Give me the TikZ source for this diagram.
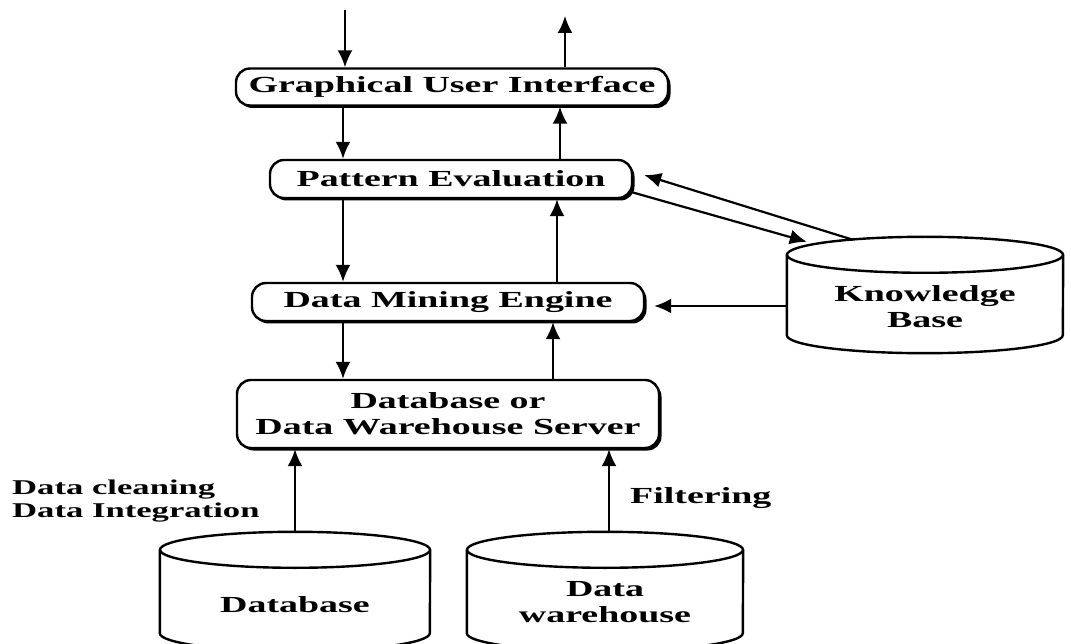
\documentclass[tikz,border=0pt]{standalone}
\usepackage{fontspec}
\setmainfont{Liberation Serif}[FakeStretch=1.65]
\usetikzlibrary{arrows.meta,calc,shadows}
\newcommand\drawcyl[3]{%
  \coordinate (#1-tc) at ($(#1.north)+(0,#2)$);
  \coordinate (#1-tl) at ($(#1.north west)+(0,#2)$);
  \coordinate (#1-tr) at ($(#1.north east)+(0,#2)$);
  \coordinate (#1-bl) at ($(#1.south west)+(0,-#2)$);
  \draw[cylline] (#1-tc) ellipse [x radius=#3, y radius=#2];
  \draw[cylline] (#1-tl) -- (#1-bl) arc [start angle=180, end angle=0, x radius=#3, y radius=#2] -- (#1-tr);
}
\begin{document}
\begin{tikzpicture}[x=1pt,y=-1pt,
  box/.style={draw=black, line width=2.4pt, fill=white, rounded corners=14pt,
    font=\bfseries\fontsize{23}{26}\selectfont, align=center, inner sep=0pt,
    drop shadow={shadow xshift=2.5pt, shadow yshift=-2.5pt, opacity=1, fill=black}},
  arr/.style={line width=2.2pt, -{Latex[length=17pt,width=15pt]}},
  cylarea/.style={draw=none, inner sep=0pt},
  cylline/.style={line width=2.4pt},
  txt/.style={font=\bfseries\fontsize{23}{26}\selectfont, align=center, inner sep=0pt},
  lbl/.style={font=\bfseries\fontsize{21}{23}\selectfont, align=left, inner sep=0pt}
]
\useasboundingbox (0,0) rectangle (1071,644);
\clip (0,0) rectangle (1071,644);
\fill[white] (0,0) rectangle (1071,644);

% boxes
\node[box, minimum width=432pt, minimum height=37pt] (gui) at (452,87) {Graphical User Interface};
\node[box, minimum width=362pt, minimum height=38pt] (pe) at (451,179) {Pattern Evaluation};
\node[box, minimum width=392pt, minimum height=38pt] (dme) at (448,302) {Data Mining Engine};
\node[box, minimum width=422pt, minimum height=68pt] (dbs) at (448,414) {Database or\\Data Warehouse Server};

% cylinders
\node[cylarea, minimum width=276pt, minimum height=116pt] (kb) at (925,295) {};
\node[cylarea, minimum width=270pt, minimum height=119pt] (db) at (295,591.5) {};
\node[cylarea, minimum width=276pt, minimum height=119pt] (dw) at (605,591.5) {};
\drawcyl{kb}{18}{138}
\drawcyl{db}{18}{135}
\drawcyl{dw}{18}{138}

\node[txt] (kbt) at (925,307) {Knowledge\\Base};
\node[txt, anchor=base] (dbt) at (295,612) {Database};
\node[txt] (dwt) at (605,602) {Data\\warehouse};

% labels
\node[lbl, anchor=north west] (clean) at (12,480) {Data cleaning\\Data Integration};
\node[lbl, anchor=base west, font=\bfseries\fontsize{23}{26}\selectfont] (filt) at (630,503) {Filtering};

% arrow columns
\coordinate (in) at (345,10);
\coordinate (out) at (565,16);
\coordinate (d1) at (343,0);
\coordinate (u1) at (560,0);
\coordinate (u2) at (557,0);
\coordinate (u3) at (553,0);
\coordinate (dbx) at (295,0);
\coordinate (dwx) at (609,0);
\coordinate (kby) at (0,306);

\draw[arr] (in) -- (in |- gui.north);
\draw[arr] (out |- gui.north) -- (out);
\draw[arr] (gui.south -| d1) -- (pe.north -| d1);
\draw[arr] (pe.north -| u1) -- (gui.south -| u1);
\draw[arr] (pe.south -| d1) -- (dme.north -| d1);
\draw[arr] (dme.north -| u2) -- (pe.south -| u2);
\draw[arr] (dme.south -| d1) -- (dbs.north -| d1);
\draw[arr] (dbs.north -| u3) -- (dme.south -| u3);
\draw[arr] (db.north -| dbx) -- (dbs.south -| dbx);
\draw[arr] (dw.north -| dwx) -- (dbs.south -| dwx);
\draw[arr, shorten >=9pt] (kb.west |- kby) -- (dme.east |- kby);
\draw[arr] ($(pe.east)+(-2,13)$) -- ($(kb.north west)+(20,5)$);
\draw[arr] ($(kb.north)+(-72,3)$) -- ($(pe.east)+(11,-4)$);
\end{tikzpicture}
\end{document}
